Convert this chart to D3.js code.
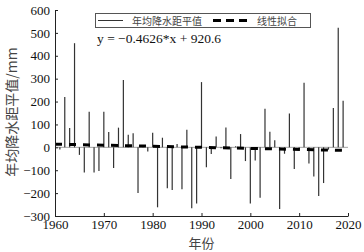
<!DOCTYPE html>
<html>
<head>
<meta charset="utf-8">
<script src="https://cdn.jsdelivr.net/npm/d3@7"></script>
<style>
  body { margin: 0; background: #fff; }
  svg { display: block; }
  .tick text { font-family: "Liberation Serif", serif; font-size: 13px; fill: #111; }
  .cjk { font-family: "Noto Sans CJK SC", sans-serif; }
</style>
</head>
<body>
<svg id="chart" width="364" height="252">
  <g id="zero"></g>
  <g id="bars"></g>
  <g id="trend"></g>
  <g id="x_axis"></g>
  <g id="y_axis"></g>
  <g id="legend"></g>
  <g id="labels"></g>
</svg>
<script>
// years and annual precipitation anomaly (mm)
let years = d3.range(1961, 2020)
let anomaly = [
  -10, 220, 85, 455, -33, -110, 156, -110, -103, 156,
  67, -90, 86, 294, 55, 61, -200, 6, -18, 64,
  -262, 42, -179, -186, 15, -183, 77, -266, -245, 285,
  -87, -29, 47, -4, 87, -138, 5, 58, -60, -245,
  -57, -220, 169, 68, 31, -269, -28, 148, -95, -8,
  282, -71, -127, -213, -156, -10, 172, 522, 204
]
let xTicks = [1960, 1970, 1980, 1990, 2000, 2010, 2020]
let yTicks = [-300, -200, -100, 0, 100, 200, 300, 400, 500, 600]
let trendSlope = -0.4626
let trendIntercept = 920.6
let trendYears = [1960, 2019]
let legendLabels = ["年均降水距平值", "线性拟合"]
let equationText = "y = \u22120.4626*x + 920.6"
let xTitle = "年份"
let yTitle = "年均降水距平值/mm"

let margin = {top: 10, right: 16, bottom: 36, left: 55}
let width = 364, height = 252

function make_scales() {
  return {
    x: d3.scaleLinear()
      .domain([1960, 2020])
      .range([margin.left, width - margin.right]),
    y: d3.scaleLinear()
      .domain([-300, 600])
      .range([height - margin.bottom, margin.top])
  }
}

// thin gray baseline at zero
function draw_zero(scales) {
  d3.select("#zero")
    .append("line")
    .attr("x1", scales.x(1960))
    .attr("x2", scales.x(2020))
    .attr("y1", scales.y(0))
    .attr("y2", scales.y(0))
    .attr("stroke", "#8a8a8a")
    .attr("stroke-width", 0.8)
}

// one vertical line per year, from zero to the anomaly
function draw_bars(data, scales) {
  d3.select("#bars")
    .selectAll("line")
    .data(data).enter()
    .append("line")
    .attr("x1", d => scales.x(d.year))
    .attr("x2", d => scales.x(d.year))
    .attr("y1", scales.y(0))
    .attr("y2", d => scales.y(d.value))
    .attr("stroke", "#333")
    .attr("stroke-width", 1.2)
}

function draw_trend(scales) {
  let line = d3.line()
    .x(d => scales.x(d))
    .y(d => scales.y(trendSlope * d + trendIntercept))
  d3.select("#trend")
    .append("path")
    .attr("d", line(trendYears))
    .attr("fill", "none")
    .attr("stroke", "#000")
    .attr("stroke-width", 3)
    .attr("stroke-dasharray", "7,7")
}

function draw_axes(scales) {
  let x_axis = d3.axisBottom(scales.x)
    .tickValues(xTicks)
    .tickFormat(d3.format("d"))
    .tickSizeInner(-3)
    .tickSizeOuter(0)
    .tickPadding(4)
  d3.select("#x_axis")
    .attr("transform", `translate(0, ${height - margin.bottom})`)
    .call(x_axis)

  let y_axis = d3.axisLeft(scales.y)
    .tickValues(yTicks)
    .tickFormat(d => d < 0 ? "\u2212" + Math.abs(d) : d)
    .tickSizeInner(-3)
    .tickSizeOuter(0)
    .tickPadding(5)
  d3.select("#y_axis")
    .attr("transform", `translate(${margin.left}, 0)`)
    .call(y_axis)

  d3.selectAll("#x_axis .domain, #y_axis .domain").attr("stroke", "#222")
  d3.selectAll(".tick line").attr("stroke", "#222")
}

function draw_legend() {
  let g = d3.select("#legend")
  g.append("rect")
    .attr("x", 95.5).attr("y", 13.5)
    .attr("width", 215).attr("height", 14)
    .attr("fill", "#fff")
    .attr("stroke", "#555")
    .attr("stroke-width", 1)
  g.append("line")
    .attr("x1", 98).attr("x2", 123)
    .attr("y1", 20.5).attr("y2", 20.5)
    .attr("stroke", "#333").attr("stroke-width", 1)
  g.append("text")
    .attr("class", "cjk")
    .attr("x", 132).attr("y", 24.5)
    .attr("font-size", 10).attr("fill", "#444")
    .text(legendLabels[0])
  g.append("line")
    .attr("x1", 213).attr("x2", 247)
    .attr("y1", 20.5).attr("y2", 20.5)
    .attr("stroke", "#000").attr("stroke-width", 3)
    .attr("stroke-dasharray", "8,5")
  g.append("text")
    .attr("class", "cjk")
    .attr("x", 257).attr("y", 24.5)
    .attr("font-size", 10).attr("fill", "#444")
    .text(legendLabels[1])
}

function draw_labels(scales) {
  let g = d3.select("#labels")
  g.append("text")
    .attr("x", 97).attr("y", 43)
    .attr("font-family", "Liberation Serif, serif")
    .attr("font-size", 13.5)
    .attr("fill", "#111")
    .text(equationText)

  g.append("text")
    .attr("class", "cjk")
    .attr("x", (scales.x(1960) + scales.x(2020)) / 2)
    .attr("y", 248)
    .attr("text-anchor", "middle")
    .attr("font-size", 13)
    .attr("fill", "#444")
    .text(xTitle)

  g.append("text")
    .attr("class", "cjk")
    .attr("transform", "translate(12.5, 112) rotate(-90)")
    .attr("dy", "0.35em")
    .attr("text-anchor", "middle")
    .attr("font-size", 14)
    .attr("fill", "#444")
    .text(yTitle)
}

function visualize() {
  let data = years.map((y, i) => ({year: y, value: anomaly[i]}))
  let scales = make_scales()
  draw_zero(scales)
  draw_bars(data, scales)
  draw_trend(scales)
  draw_axes(scales)
  draw_legend()
  draw_labels(scales)
}

visualize()
</script>
</body>
</html>
